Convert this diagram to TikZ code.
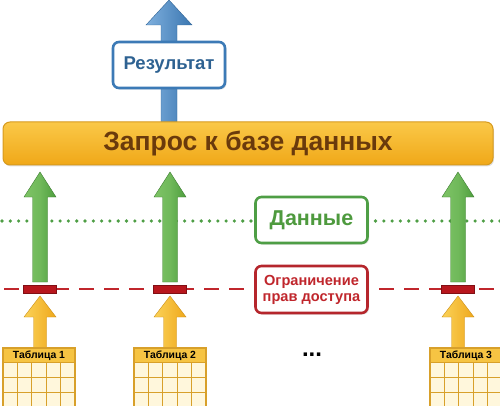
\documentclass[tikz,border=0pt]{standalone}
\usepackage{fontspec}
\setmainfont{Liberation Sans}
\usetikzlibrary{shadows,calc}
\definecolor{barTop}{HTML}{FAC848}
\definecolor{barBot}{HTML}{F0A818}
\definecolor{barLine}{HTML}{D69A1E}
\definecolor{barText}{HTML}{6A3A0C}
\definecolor{bluLine}{HTML}{3C7AB6}
\definecolor{bluText}{HTML}{2E6292}
\definecolor{bluL}{HTML}{7FB0DE}
\definecolor{bluD}{HTML}{3A76B0}
\definecolor{grnLine}{HTML}{4E9E45}
\definecolor{grnText}{HTML}{4E9A3E}
\definecolor{grnL}{HTML}{7EC466}
\definecolor{grnD}{HTML}{4E9E3E}
\definecolor{redLine}{HTML}{B5262C}
\definecolor{redText}{HTML}{C0262C}
\definecolor{redBar}{HTML}{B8161D}
\definecolor{yelL}{HTML}{FBD258}
\definecolor{yelD}{HTML}{EFA81C}
\definecolor{yelLine}{HTML}{D8A02A}
\definecolor{tabHead}{HTML}{F6C443}
\definecolor{tabBody}{HTML}{FFF7DC}
\newcommand\fatarrow[7]{%
  \path[#1] ({#2-#5},#3) -- ({#2-#5},{#4+#7}) -- ({#2-#6},{#4+#7}) -- (#2,#4)
    -- ({#2+#6},{#4+#7}) -- ({#2+#5},{#4+#7}) -- ({#2+#5},#3) -- cycle;}
\newcommand\mytable[3]{%
  \begin{scope}[shift={(#1,348)}]
    \fill[tabBody] (0,14) rectangle (72,60);
    \fill[tabHead] (0,0) rectangle (72,14);
    \draw[yelLine,line width=1.2pt] (0,60) -- (0,0) -- (72,0) -- (72,60);
    \draw[yelLine,line width=1pt] (0,14) -- (72,14) (0,29) -- (72,29) (0,44) -- (72,44);
    \foreach \c in {1,...,4} \draw[yelLine,line width=1pt] ({\c*14.4},14) -- ({\c*14.4},60);
    \node[font=\bfseries\fontsize{10.4}{12}\selectfont,text=black] (#2) at (36,7.5) {#3};
  \end{scope}}
\tikzset{
  boxstyle/.style={draw,fill=white,rounded corners=6pt,line width=2.6pt,
    minimum width=112pt,minimum height=46pt,inner sep=0pt,align=center,
    drop shadow={opacity=0.25,shadow xshift=1.5pt,shadow yshift=-1.5pt}},
  grnarr/.style={left color=grnL,right color=grnD,middle color=grnL!70!grnD,draw=grnD!80!black,line width=0.4pt},
  yelarr/.style={left color=yelL,right color=yelD,draw=yelD!85!black,line width=0.4pt},
  bluarr/.style={left color=bluL,right color=bluD,draw=bluD!85!black,line width=0.4pt},
  redbar/.style={fill=redBar,draw=redBar!70!black,line width=0.4pt,minimum width=33pt,minimum height=8pt,inner sep=0pt},
}
\begin{document}
\begin{tikzpicture}[x=1pt,y=-1pt]
\useasboundingbox (0,0) rectangle (500,406);
% lines
\coordinate (dotL) at (0,221);
\coordinate (dotR) at (500,221);
\coordinate (dashL) at (0,289);
\coordinate (dashR) at (500,289);
\draw[grnLine,line width=3.6pt,line cap=round,dash pattern=on 0pt off 8.3pt,dash phase=-2pt] (dotL) -- (dotR);
\draw[redText,line width=2.4pt,dash pattern=on 15pt off 10pt,dash phase=-4pt] (dashL) -- (dashR);
% blue arrow
\fatarrow{bluarr}{169}{125}{0}{8}{23}{25}
% bar
\node[draw=barLine,top color=barTop,bottom color=barBot,rounded corners=7pt,line width=1pt,
  minimum width=490pt,minimum height=43pt,inner sep=0pt,
  drop shadow={opacity=0.25,shadow xshift=1pt,shadow yshift=-1.5pt},
  font=\bfseries\fontsize{26.5}{30}\selectfont,text=barText] (query) at (248,143.5) {Запрос к базе данных};
\node[boxstyle,draw=bluLine,text=bluText,font=\bfseries\fontsize{18.5}{22}\selectfont] (result) at (169,65) {Результат};
% green arrows
\foreach \x in {40,170,458} {\fatarrow{grnarr}{\x}{282}{172}{7.5}{16}{25}}
% yellow arrows
\foreach \x in {40,170,458} {\fatarrow{yelarr}{\x}{349}{296}{6.5}{16}{21}}
% red bars
\node[redbar] (r1) at (40,289) {};
\node[redbar] (r2) at (170,289) {};
\node[redbar] (r3) at (458,289) {};
% boxes
\node[boxstyle,draw=grnLine,text=grnText,font=\bfseries\fontsize{21.5}{24}\selectfont] (data) at (311.5,220) {Данные};
\node[boxstyle,draw=redLine,text=redText,minimum height=47pt,font=\bfseries\fontsize{14.6}{16}\selectfont] (limit) at (311.5,289.5) {Ограничение\\прав доступа};
% tables
\mytable{3}{t1}{Таблица 1}
\mytable{134}{t2}{Таблица 2}
\mytable{430}{t3}{Таблица 3}
\node[font=\bfseries\fontsize{24}{26}\selectfont] (dots) at (312,355) {...};
\end{tikzpicture}
\end{document}
